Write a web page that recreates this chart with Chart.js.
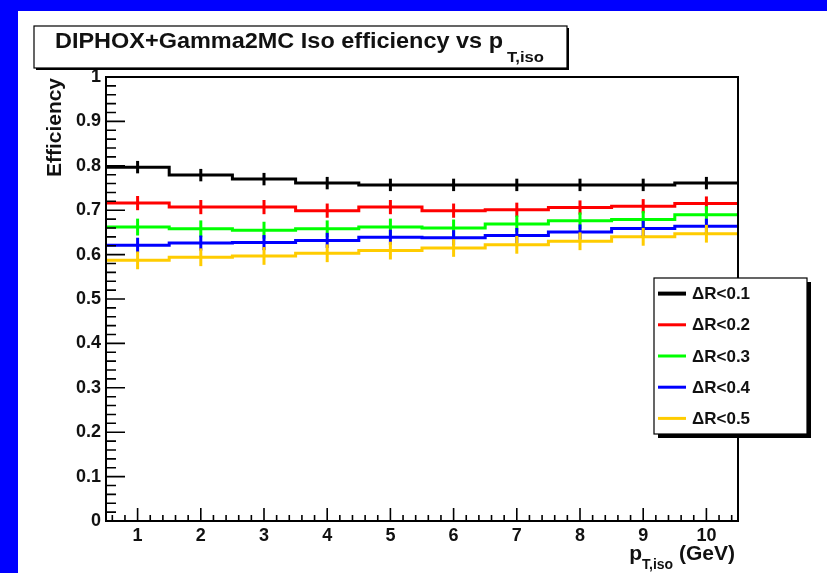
<!DOCTYPE html>
<html>
<head>
<meta charset="utf-8">
<script src="https://cdn.jsdelivr.net/npm/chart.js@4.4.1/dist/chart.umd.min.js"></script>
<style>
  html, body { margin: 0; padding: 0; width: 827px; height: 573px; overflow: hidden; background: #0000ff; }
  #pad { position: absolute; left: 18px; top: 11px; width: 809px; height: 562px; background: #fff; }
  canvas { display: block; }
</style>
</head>
<body>
<div id="pad"><canvas id="chart" width="809" height="562"></canvas></div>
<script>
/* ================= DATA ================= */
const binCenters = [1, 2, 3, 4, 5, 6, 7, 8, 9, 10];
const binWidth = 1;

const seriesLabels = ["\u0394R<0.1", "\u0394R<0.2", "\u0394R<0.3", "\u0394R<0.4", "\u0394R<0.5"];
const seriesColors = ["#000000", "#ff0000", "#00ff00", "#0000ff", "#ffcc00"];

const effDR01 = [0.797, 0.779, 0.770, 0.761, 0.757, 0.757, 0.757, 0.757, 0.757, 0.761];
const effDR02 = [0.716, 0.707, 0.707, 0.699, 0.707, 0.699, 0.701, 0.706, 0.709, 0.715];
const effDR03 = [0.662, 0.658, 0.655, 0.658, 0.662, 0.660, 0.669, 0.676, 0.679, 0.690];
const effDR04 = [0.621, 0.626, 0.627, 0.632, 0.639, 0.638, 0.643, 0.651, 0.659, 0.664];
const effDR05 = [0.587, 0.594, 0.597, 0.603, 0.609, 0.615, 0.622, 0.630, 0.640, 0.647];

// error bar half-heights, one per series
const seriesErrors = [0.014, 0.016, 0.019, 0.017, 0.020];

const yTickValues = [0, 0.1, 0.2, 0.3, 0.4, 0.5, 0.6, 0.7, 0.8, 0.9, 1];
const yTickLabels = ["0", "0.1", "0.2", "0.3", "0.4", "0.5", "0.6", "0.7", "0.8", "0.9", "1"];
const xTickLabels = ["1", "2", "3", "4", "5", "6", "7", "8", "9", "10"];

const TITLE = "DIPHOX+Gamma2MC Iso efficiency vs p";
const TITLE_SUB = "T,iso";

const FONT = "'Liberation Sans', Arial, Helvetica, sans-serif";
const INK = "#111111";

/* ================= HELPERS ================= */
function stepPoints(vals) {
  const pts = [];
  binCenters.forEach((c, i) => {
    pts.push({ x: c - binWidth / 2, y: vals[i] });
    pts.push({ x: c + binWidth / 2, y: vals[i] });
  });
  return pts;
}

const allSeries = [effDR01, effDR02, effDR03, effDR04, effDR05];

/* ----- error bars (vertical line at bin centre) ----- */
const errorBars = {
  id: "errorBars",
  afterDatasetsDraw(chart) {
    const { ctx, scales: { x, y } } = chart;
    ctx.save();
    ctx.lineWidth = 3;
    ctx.lineCap = "butt";
    allSeries.forEach((vals, s) => {
      ctx.strokeStyle = seriesColors[s];
      vals.forEach((v, i) => {
        const px = x.getPixelForValue(binCenters[i]);
        ctx.beginPath();
        ctx.moveTo(px, y.getPixelForValue(v - seriesErrors[s]));
        ctx.lineTo(px, y.getPixelForValue(v + seriesErrors[s]));
        ctx.stroke();
      });
    });
    ctx.restore();
  }
};

/* ----- ROOT style frame, ticks, titles, legend ----- */
const rootDecor = {
  id: "rootDecor",
  afterDraw(chart) {
    const { ctx, chartArea: a, scales: { x, y } } = chart;
    ctx.save();

    // frame
    ctx.strokeStyle = "#000";
    ctx.lineWidth = 2;
    ctx.strokeRect(a.left, a.top, a.right - a.left, a.bottom - a.top);

    // y ticks (inward)
    ctx.lineWidth = 1.6;
    ctx.beginPath();
    for (let k = 0; k <= 50; k++) {
      const py = y.getPixelForValue(k * 0.02);
      const len = (k % 5 === 0) ? 19 : 10;
      ctx.moveTo(a.left, py);
      ctx.lineTo(a.left + len, py);
    }
    // x ticks (inward)
    for (let k = 0; k <= 50; k++) {
      const v = 0.6 + k * 0.2;
      if (v > 10.5) break;
      const px = x.getPixelForValue(v);
      const isMajor = Math.abs(v - Math.round(v)) < 1e-6;
      const len = isMajor ? 13 : 6;
      ctx.moveTo(px, a.bottom);
      ctx.lineTo(px, a.bottom - len);
    }
    ctx.stroke();

    // y axis title
    ctx.fillStyle = INK;
    ctx.save();
    ctx.translate(a.left - 45, a.top + 1);
    ctx.rotate(-Math.PI / 2);
    ctx.font = "bold 20px " + FONT;
    ctx.textAlign = "right";
    ctx.textBaseline = "alphabetic";
    const wEff = ctx.measureText("Efficiency").width;
    ctx.scale(99 / wEff, 1);
    ctx.fillText("Efficiency", 0, 0);
    ctx.restore();

    // x axis title
    ctx.textBaseline = "alphabetic";
    ctx.textAlign = "left";
    const gev = " (GeV)";
    ctx.font = "bold 21px " + FONT;
    const wGev = ctx.measureText(gev).width;
    const wP = ctx.measureText("p").width;
    ctx.font = "bold 14px " + FONT;
    const wSub = ctx.measureText(TITLE_SUB).width;
    let xs = a.right - 3 - wGev - wSub - wP;
    ctx.font = "bold 21px " + FONT;
    ctx.fillText("p", xs, a.bottom + 39);
    ctx.font = "bold 14px " + FONT;
    ctx.fillText(TITLE_SUB, xs + wP, a.bottom + 48);
    ctx.font = "bold 21px " + FONT;
    ctx.fillText(gev, xs + wP + wSub, a.bottom + 39);

    // legend box with shadow
    const lg = { left: 636, top: 267, right: 789, bottom: 423 };
    ctx.fillStyle = "#000";
    ctx.fillRect(lg.left + 4, lg.top + 4, lg.right - lg.left, lg.bottom - lg.top);
    ctx.fillStyle = "#fff";
    ctx.fillRect(lg.left, lg.top, lg.right - lg.left, lg.bottom - lg.top);
    ctx.strokeStyle = "#000";
    ctx.lineWidth = 1.2;
    ctx.strokeRect(lg.left, lg.top, lg.right - lg.left, lg.bottom - lg.top);
    const rowH = (lg.bottom - lg.top) / seriesLabels.length;
    ctx.font = "bold 17px " + FONT;
    ctx.textBaseline = "middle";
    seriesLabels.forEach((lab, i) => {
      const cy = lg.top + rowH * (i + 0.5);
      ctx.strokeStyle = seriesColors[i];
      ctx.lineWidth = i === 0 ? 4 : 3;
      ctx.beginPath();
      ctx.moveTo(lg.left + 4, cy);
      ctx.lineTo(lg.left + 32, cy);
      ctx.stroke();
      ctx.fillStyle = INK;
      ctx.fillText(lab, lg.left + 38, cy + 1);
    });

    // title box with shadow
    const tb = { left: 16, top: 15, right: 549, bottom: 57 };
    ctx.fillStyle = "#000";
    ctx.fillRect(tb.left + 2, tb.top + 2, tb.right - tb.left, tb.bottom - tb.top);
    ctx.fillStyle = "#fff";
    ctx.fillRect(tb.left, tb.top, tb.right - tb.left, tb.bottom - tb.top);
    ctx.strokeStyle = "#000";
    ctx.lineWidth = 1.2;
    ctx.strokeRect(tb.left, tb.top, tb.right - tb.left, tb.bottom - tb.top);
    ctx.fillStyle = INK;
    ctx.textBaseline = "alphabetic";
    ctx.font = "bold 22px " + FONT;
    const wT = ctx.measureText(TITLE).width;
    const sx = 448 / wT;
    ctx.save();
    ctx.translate(tb.left + 21, tb.top + 22);
    ctx.scale(sx, 1);
    ctx.fillText(TITLE, 0, 0);
    ctx.restore();
    ctx.font = "bold 15px " + FONT;
    const wTs = ctx.measureText(TITLE_SUB).width;
    ctx.save();
    ctx.translate(tb.left + 21 + 448 + 4, tb.top + 36);
    ctx.scale(37 / wTs, 1);
    ctx.fillText(TITLE_SUB, 0, 0);
    ctx.restore();

    ctx.restore();
  }
};

/* ================= CHART ================= */
const ctx = document.getElementById("chart").getContext("2d");

new Chart(ctx, {
  type: "line",
  data: {
    datasets: allSeries.map((vals, i) => ({
      label: seriesLabels[i],
      data: stepPoints(vals),
      borderColor: seriesColors[i],
      borderWidth: 3,
      pointRadius: 0,
      fill: false,
      tension: 0,
      borderCapStyle: "butt",
      borderJoinStyle: "miter"
    }))
  },
  options: {
    responsive: false,
    animation: false,
    events: [],
    layout: { padding: { left: 48, top: 66, right: 89, bottom: 22 } },
    plugins: { legend: { display: false }, tooltip: { enabled: false } },
    scales: {
      x: {
        type: "linear",
        min: 0.5,
        max: 10.5,
        afterBuildTicks: s => { s.ticks = binCenters.map(v => ({ value: v })); },
        afterFit: s => { s.height = 30; },
        grid: { display: false, drawTicks: false, tickLength: 0 },
        border: { display: false },
        ticks: {
          padding: 4,
          color: INK,
          font: { family: FONT, size: 18, weight: "bold" },
          maxRotation: 0,
          callback: (v, i) => xTickLabels[i]
        }
      },
      y: {
        type: "linear",
        min: 0,
        max: 1,
        afterBuildTicks: s => { s.ticks = yTickValues.map(v => ({ value: v })); },
        afterFit: s => { s.width = 40; },
        grid: { display: false, drawTicks: false, tickLength: 0 },
        border: { display: false },
        ticks: {
          padding: 5,
          color: INK,
          font: { family: FONT, size: 18, weight: "bold" },
          callback: (v, i) => yTickLabels[i]
        }
      }
    }
  },
  plugins: [errorBars, rootDecor]
});
</script>
</body>
</html>
